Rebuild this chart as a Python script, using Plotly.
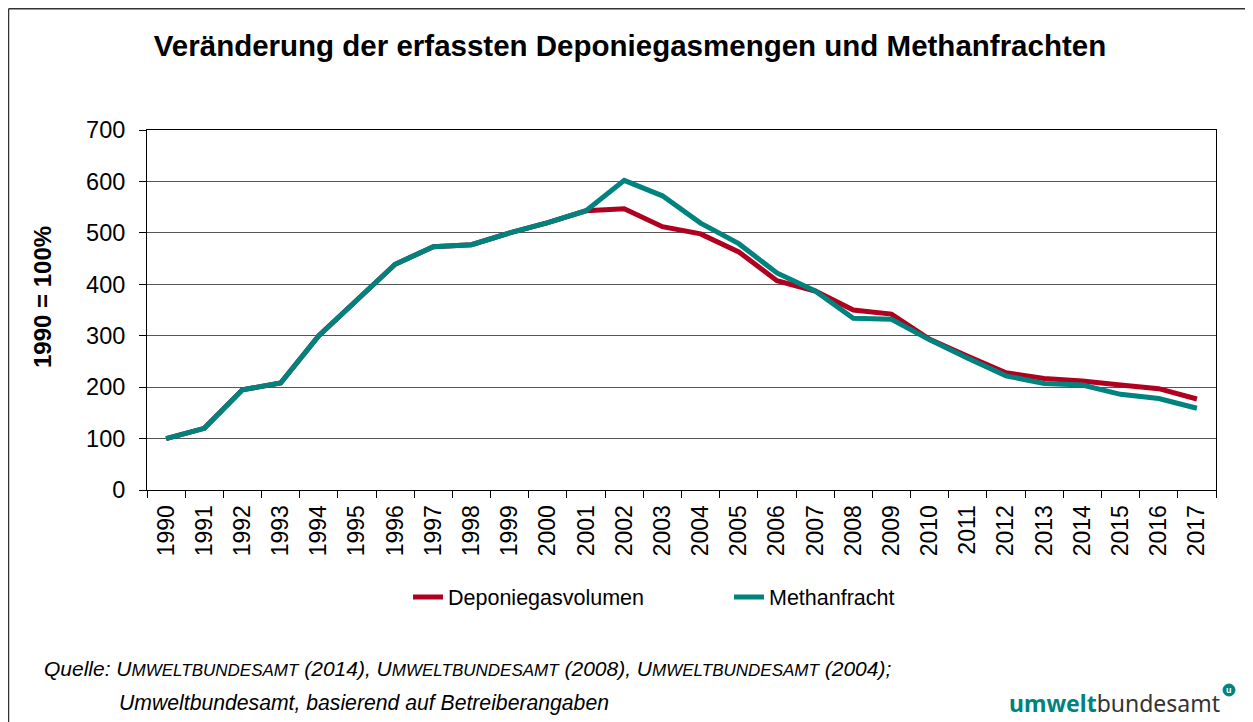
import plotly.graph_objects as go

years = [str(y) for y in range(1990, 2018)]
deponiegas = [100, 120, 195, 208, 300, 370, 439, 473, 477, 500, 520, 543, 547, 512,
              498, 463, 407, 387, 350, 342, 293, 260, 228, 217, 212, 204, 197, 177]
methan = [100, 120, 195, 208, 300, 370, 439, 473, 477, 500, 520, 543, 602, 572,
          519, 479, 422, 387, 334, 332, 292, 256, 222, 207, 204, 186, 178, 159]
y_ticks = [0, 100, 200, 300, 400, 500, 600, 700]

RED = "#B1001F"
TEAL = "#00827E"
FONT = "Arial, Liberation Sans, sans-serif"

OFF = 8  # page body margin
W, H = 1253 - OFF, 722 - OFF
L, R, T, B = 147 - OFF, 37, 130 - OFF, 232
pw, ph = W - L - R, H - T - B


def px(x):
    # screen x -> paper x
    return (x - OFF - L) / pw


def py(y):
    # screen y -> paper y
    return (H - B - (y - OFF)) / ph


fig = go.Figure()
fig.add_trace(go.Scatter(x=years, y=deponiegas, mode="lines", name="Deponiegasvolumen",
                         line=dict(color=RED, width=5)))
fig.add_trace(go.Scatter(x=years, y=methan, mode="lines", name="Methanfracht",
                         line=dict(color=TEAL, width=5)))

fig.update_layout(
    width=W, height=H,
    margin=dict(l=L, r=R, t=T, b=B, autoexpand=False),
    paper_bgcolor="white", plot_bgcolor="white",
    font=dict(family=FONT, color="black"),
    title=dict(text="<b>Veränderung der erfassten Deponiegasmengen und Methanfrachten</b>",
               x=(630 - OFF) / W, xref="container", y=1 - (46 - OFF) / H, yref="container",
               xanchor="center", yanchor="middle",
               font=dict(size=29.5, family=FONT, color="black")),
    showlegend=True,
    legend=dict(orientation="h", x=px(408), y=py(597), xanchor="left", yanchor="middle",
                font=dict(size=21.5, family=FONT), entrywidth=276, entrywidthmode="pixels",
                bgcolor="rgba(0,0,0,0)", traceorder="normal"),
)

fig.update_xaxes(type="category", categoryorder="array", categoryarray=years,
                 range=[-0.5, len(years) - 0.5],
                 showgrid=False, showline=True, linecolor="black", linewidth=1,
                 mirror=True, ticks="outside", tickson="boundaries", ticklen=7,
                 tickcolor="black", tickangle=-90, ticklabelstandoff=5,
                 tickfont=dict(size=23, family=FONT, color="black"))
fig.update_yaxes(range=[0, 700], tickvals=y_ticks, showgrid=True, gridcolor="#555555",
                 gridwidth=1, showline=True, linecolor="black", linewidth=1, mirror=True,
                 ticks="outside", ticklen=7, tickcolor="black", zeroline=False,
                 ticklabelstandoff=9,
                 tickfont=dict(size=23.5, family=FONT, color="black"))

# y-axis title
fig.add_annotation(text="<b>1990 = 100%</b>", x=px(42), y=py(297), xref="paper", yref="paper",
                   textangle=-90, showarrow=False, font=dict(size=24, family=FONT, color="black"),
                   xanchor="center", yanchor="middle")

# source lines
fig.add_annotation(
    text="<i>Quelle: U<span style='font-size:17px'>MWELTBUNDESAMT</span> (2014), "
         "U<span style='font-size:17px'>MWELTBUNDESAMT</span> (2008), "
         "U<span style='font-size:17px'>MWELTBUNDESAMT</span> (2004);</i>",
    x=px(42), y=py(668), xref="paper", yref="paper", showarrow=False,
    xanchor="left", yanchor="middle", font=dict(size=21, family=FONT, color="black"))
fig.add_annotation(
    text="<i>Umweltbundesamt, basierend auf Betreiberangaben</i>",
    x=px(117), y=py(703), xref="paper", yref="paper", showarrow=False,
    xanchor="left", yanchor="middle", font=dict(size=21.2, family=FONT, color="black"))

# logo
fig.add_annotation(
    text=f"<b><span style='color:{TEAL}'>umwelt</span></b><span style='color:#333333'>bundesamt</span>",
    x=px(1222), y=py(703), xref="paper", yref="paper", showarrow=False,
    xanchor="right", yanchor="middle", font=dict(size=23, family="Noto Sans, sans-serif"))
fig.add_shape(type="circle", xref="paper", yref="paper", xsizemode="pixel", ysizemode="pixel",
              xanchor=px(1229), yanchor=py(690), x0=-6, x1=6, y0=-6, y1=6,
              fillcolor=TEAL, line=dict(color=TEAL, width=1))
fig.add_annotation(text="<b>u</b>", x=px(1229), y=py(690), xref="paper", yref="paper",
                   showarrow=False, font=dict(size=9, color="white", family=FONT),
                   xanchor="center", yanchor="middle")

# outer frame (left and top edges)
fig.add_shape(type="line", xref="paper", yref="paper", x0=px(8.5), x1=px(8.5), y0=py(722), y1=py(8.75),
              line=dict(color="#333333", width=1.5))
fig.add_shape(type="line", xref="paper", yref="paper", x0=px(8.5), x1=px(1253), y0=py(8.75), y1=py(8.75),
              line=dict(color="#333333", width=1.5))

fig.write_html("out.html")
